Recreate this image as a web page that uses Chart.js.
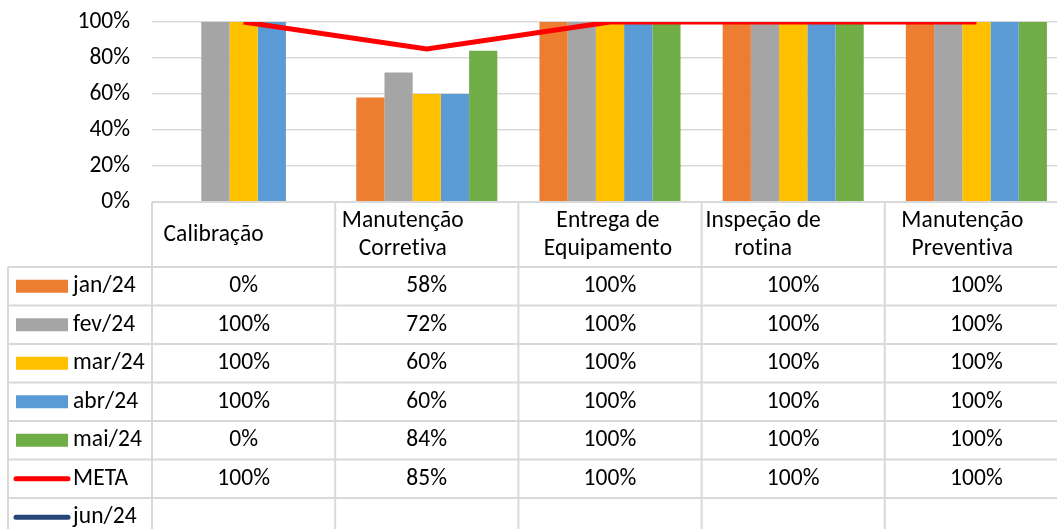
<!DOCTYPE html>
<html>
<head>
<meta charset="utf-8">
<script src="https://cdn.jsdelivr.net/npm/chart.js@4.4.1/dist/chart.umd.min.js"></script>
<style>
  html, body { margin: 0; padding: 0; background: #fff; overflow: hidden; }
  #wrap { width: 1072px; height: 529px; position: relative; }
</style>
</head>
<body>
<div id="wrap"><canvas id="myChart"></canvas></div>
<script>
/*========== DADOS ==========*/
const categories = [
  ['Calibração'],
  ['Manutenção', 'Corretiva'],
  ['Entrega de', 'Equipamento'],
  ['Inspeção de', 'rotina'],
  ['Manutenção', 'Preventiva']
];
const jan24 = [0, 58, 100, 100, 100];
const fev24 = [100, 72, 100, 100, 100];
const mar24 = [100, 60, 100, 100, 100];
const abr24 = [100, 60, 100, 100, 100];
const mai24 = [0, 84, 100, 100, 100];
const meta = [100, 85, 100, 100, 100];
const jun24 = [null, null, null, null, null];
const yTicks = [0, 20, 40, 60, 80, 100];

// deslocamento do texto do cabecalho (Excel nao centraliza bem)
const headerShift = [-30, -24, -2, -30, -14];

const FONT = 'Carlito, Calibri, "Open Sans", sans-serif';
const FONT_SIZE = 23.5;
const LINE_COLOR = '#d9d9d9';

function bar(label, data, color) {
  return {
    type: 'bar', label, data,
    backgroundColor: color,
    borderWidth: 0,
    barPercentage: 1,
    categoryPercentage: 0.77,
    order: 1
  };
}

/*========== TABELA DE DADOS (plugin) ==========*/
const dataTable = {
  id: 'dataTable',
  afterDraw(chart) {
    const { ctx, chartArea, scales } = chart;
    const x = scales.x;
    const n = categories.length;
    const colW = (chartArea.right - chartArea.left) / n;
    const top = chartArea.bottom;
    const headerBottom = top + 65;
    const rowH = 38.5;
    const legendLeft = 8;
    const dsList = chart.data.datasets;
    const tableBottom = headerBottom + rowH * dsList.length;

    ctx.save();
    ctx.strokeStyle = LINE_COLOR;
    ctx.lineWidth = 2;
    ctx.beginPath();
    // linha superior
    ctx.moveTo(chartArea.left, top);
    ctx.lineTo(chart.width, top);
    // linhas das series
    for (let r = 0; r <= dsList.length; r++) {
      const y = headerBottom + r * rowH;
      ctx.moveTo(legendLeft, y);
      ctx.lineTo(chart.width, y);
    }
    // verticais
    for (let i = 0; i <= n; i++) {
      const cx = chartArea.left + i * colW;
      ctx.moveTo(cx, top);
      ctx.lineTo(cx, tableBottom);
    }
    ctx.moveTo(legendLeft, headerBottom);
    ctx.lineTo(legendLeft, tableBottom);
    ctx.stroke();

    ctx.fillStyle = '#000';
    ctx.font = FONT_SIZE + 'px ' + FONT;
    ctx.letterSpacing = '0.1px'; // evita a ligadura "ti"
    ctx.textBaseline = 'middle';
    ctx.textAlign = 'center';

    // cabecalho
    categories.forEach((lines, i) => {
      const cx = x.getPixelForValue(i) + headerShift[i];
      const midY = (top + headerBottom) / 2 + 1;
      const lh = 28;
      lines.forEach((t, k) => {
        const y = midY + (k - (lines.length - 1) / 2) * lh;
        ctx.fillText(t, cx, y);
      });
    });

    // linhas com legenda e valores
    dsList.forEach((ds, r) => {
      const cy = headerBottom + r * rowH + rowH / 2;
      if (ds.type === 'bar') {
        ctx.fillStyle = ds.backgroundColor;
        ctx.fillRect(16, cy - 6.5, 52, 13);
      } else {
        ctx.strokeStyle = ds.borderColor;
        ctx.lineWidth = 5;
        ctx.lineCap = 'round';
        ctx.beginPath();
        ctx.moveTo(16, cy);
        ctx.lineTo(68, cy);
        ctx.stroke();
      }
      ctx.fillStyle = '#000';
      ctx.textAlign = 'left';
      ctx.fillText(ds.label, 73, cy);
      ctx.textAlign = 'center';
      ds.data.forEach((v, i) => {
        if (v === null) return;
        ctx.fillText(v + '%', x.getPixelForValue(i), cy);
      });
    });
    ctx.restore();
  }
};

/*========== CHART ==========*/
const ctx = document.getElementById('myChart').getContext('2d');

const chart = new Chart(ctx, {
  data: {
    labels: categories,
    datasets: [
      bar('jan/24', jan24, '#ED7D31'),
      bar('fev/24', fev24, '#A5A5A5'),
      bar('mar/24', mar24, '#FFC000'),
      bar('abr/24', abr24, '#5B9BD5'),
      bar('mai/24', mai24, '#70AD47'),
      {
        type: 'line', label: 'META', data: meta,
        borderColor: '#FF0000', backgroundColor: '#FF0000',
        borderWidth: 5, pointRadius: 0, tension: 0, order: 0
      },
      {
        type: 'line', label: 'jun/24', data: jun24,
        borderColor: '#264478', backgroundColor: '#264478',
        borderWidth: 5, pointRadius: 0, order: 0
      }
    ]
  },
  options: {
    animation: false,
    responsive: true,
    maintainAspectRatio: false,
    layout: { padding: { top: 22, bottom: 327, left: 0, right: 4 } },
    plugins: { legend: { display: false }, tooltip: { enabled: false } },
    scales: {
      x: {
        display: false,
        offset: true
      },
      y: {
        min: 0,
        max: 100,
        afterFit(scale) {
          scale.width = 152;
          scale.paddingTop = 0;
          scale.paddingBottom = 0;
        },
        afterBuildTicks(scale) { scale.ticks = yTicks.map(v => ({ value: v })); },
        border: { display: false },
        grid: { color: LINE_COLOR, lineWidth: 1.5, drawTicks: false },
        ticks: {
          padding: 22,
          color: '#000',
          font: { family: FONT, size: FONT_SIZE },
          callback: v => v + '%'
        }
      }
    }
  },
  plugins: [dataTable]
});
</script>
</body>
</html>
